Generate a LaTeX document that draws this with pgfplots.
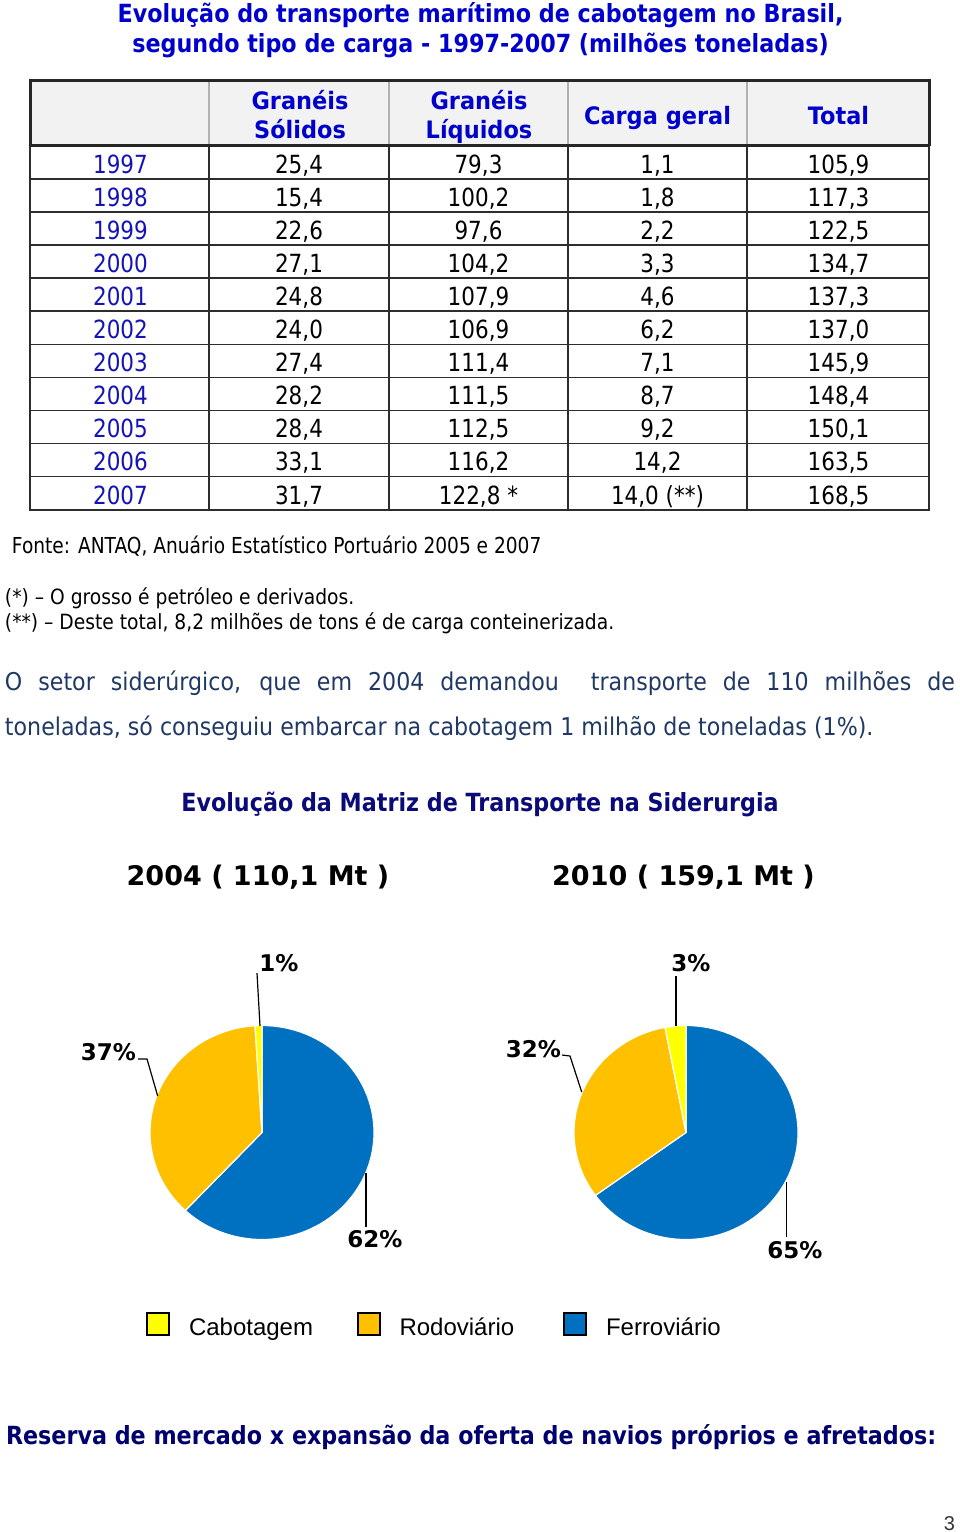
\documentclass[border=0pt]{standalone}
\usepackage{pgfplots}
\pgfplotsset{compat=1.18}
\usepackage{pgfplotstable}
\usepackage{fontspec}
\setmainfont{DejaVu Sans}
\newfontfamily\tah{DejaVu Sans}[FakeStretch=0.86]
\newfontfamily\tahf{DejaVu Sans}[FakeStretch=0.845]
\newfontfamily\tahn{DejaVu Sans}[FakeStretch=0.89]
\newfontfamily\tahp{DejaVu Sans}[FakeStretch=0.904]
\newfontfamily\tahb{DejaVu Sans}[FakeStretch=0.89]
\newfontfamily\tahh{DejaVu Sans}[FakeStretch=0.935]
\newfontfamily\verd{DejaVu Sans}
\newfontfamily\arial{Liberation Sans}
\definecolor{titblue}{RGB}{0,0,205}
\definecolor{yrblue}{RGB}{20,20,180}
\definecolor{parablue}{RGB}{31,56,100}
\definecolor{navy}{RGB}{10,10,120}
\definecolor{navyb}{RGB}{0,0,110}
\definecolor{pblue}{RGB}{0,112,192}
\definecolor{porange}{RGB}{255,192,0}
\definecolor{pyellow}{RGB}{255,255,0}
\definecolor{tline}{RGB}{45,45,45}
\definecolor{hdrbg}{RGB}{242,242,242}

\pgfplotstableread{
modo p2004 p2010
Ferroviario 62 65
Rodoviario 37 32
Cabotagem 1 3
}\matriz

\newcommand\fs[1]{\fontsize{#1}{#1}\selectfont}
\newcommand\trow[6]{%
  \pgfmathsetmacro\yb{145.7+33.1*#1+27.3}%
  \node[anchor=base,text=yrblue] at (120.5,-\yb) {\tah\fs{25}#2};
  \node[anchor=base] at (299,-\yb) {\tah\fs{25}#3};
  \node[anchor=base] at (478.5,-\yb) {\tah\fs{25}#4};
  \node[anchor=base] at (657.5,-\yb) {\tah\fs{25}#5};
  \node[anchor=base] at (838.5,-\yb) {\tah\fs{25}#6};
}

\begin{document}
\begin{tikzpicture}[x=1pt,y=1pt,inner sep=0pt,outer sep=0pt]
\path[use as bounding box] (0,0) rectangle (960,-1532);

% ---- title
\node[anchor=base,text=titblue] at (480.5,-22.7) {\tahb\bfseries\fs{25}Evolução do transporte marítimo de cabotagem no Brasil,};
\node[anchor=base,text=titblue] at (480.5,-52.3) {\tahb\bfseries\fs{25}segundo tipo de carga - 1997-2007 (milhões toneladas)};

% ---- table
\fill[hdrbg] (30,-80) rectangle (929,-145.7);
\foreach \i in {1,...,10} {
  \draw[tline,line width=1.5pt] (30,{-145.7-33.1*\i}) -- (929,{-145.7-33.1*\i});
}
\foreach \x in {209,389,568,747} {
  \draw[tline,line width=1.5pt] (\x,-145.7) -- (\x,-509.5);
  \draw[gray!60,line width=1.4pt] (\x,-80) -- (\x,-145.7);
}
\draw[tline,line width=2pt] (30,-145.7) rectangle (929,-509.5);
\draw[black!85,line width=3pt] (30,-145.7) -- (30,-80) -- (929,-80) -- (929,-145.7);
\draw[black!85,line width=3pt] (30,-145.7) -- (929,-145.7);

\node[anchor=base,text=titblue] at (300,-109.3) {\tahh\bfseries\fs{24}Granéis};
\node[anchor=base,text=titblue] at (300,-138.3) {\tahh\bfseries\fs{24}Sólidos};
\node[anchor=base,text=titblue] at (479,-109.3) {\tahh\bfseries\fs{24}Granéis};
\node[anchor=base,text=titblue] at (479,-138.3) {\tahh\bfseries\fs{24}Líquidos};
\node[anchor=base,text=titblue] at (657.5,-124) {\tahh\bfseries\fs{24}Carga geral};
\node[anchor=base,text=titblue] at (838.5,-124) {\tahh\bfseries\fs{24}Total};

\trow{0}{1997}{25,4}{79,3}{1,1}{105,9}
\trow{1}{1998}{15,4}{100,2}{1,8}{117,3}
\trow{2}{1999}{22,6}{97,6}{2,2}{122,5}
\trow{3}{2000}{27,1}{104,2}{3,3}{134,7}
\trow{4}{2001}{24,8}{107,9}{4,6}{137,3}
\trow{5}{2002}{24,0}{106,9}{6,2}{137,0}
\trow{6}{2003}{27,4}{111,4}{7,1}{145,9}
\trow{7}{2004}{28,2}{111,5}{8,7}{148,4}
\trow{8}{2005}{28,4}{112,5}{9,2}{150,1}
\trow{9}{2006}{33,1}{116,2}{14,2}{163,5}
\trow{10}{2007}{31,7}{122,8 *}{14,0 (**)}{168,5}

% ---- notes
\node[anchor=base west] at (12,-553.5) {\tahf\fs{22}Fonte: ANTAQ, Anuário Estatístico Portuário 2005 e 2007};
\node[anchor=base west] at (5,-604) {\tahn\fs{21}(*) – O grosso é petróleo e derivados.};
\node[anchor=base west] at (5,-629) {\tahn\fs{21}(**) – Deste total, 8,2 milhões de tons é de carga conteinerizada.};

% ---- paragraph
\node[anchor=base west,text=parablue] at (5,-690) {\tahp\fs{24.5}\makebox[950pt][s]{O setor siderúrgico, que em 2004 demandou\ \ transporte de 110 milhões de}};
\node[anchor=base west,text=parablue] at (5,-735) {\tahp\fs{24.5}toneladas, só conseguiu embarcar na cabotagem 1 milhão de toneladas (1\%).};

% ---- pie heading
\node[anchor=base,text=navy] at (480,-811.5) {\tahb\bfseries\fs{25}Evolução da Matriz de Transporte na Siderurgia};
\node[anchor=base] at (258,-885) {\verd\bfseries\fs{27}2004 ( 110,1 Mt )};
\node[anchor=base] at (683.5,-885) {\verd\bfseries\fs{27}2010 ( 159,1 Mt )};

% ---- pie data
\pgfplotstablegetelem{0}{p2004}\of\matriz \let\fA\pgfplotsretval
\pgfplotstablegetelem{1}{p2004}\of\matriz \let\rA\pgfplotsretval
\pgfplotstablegetelem{2}{p2004}\of\matriz \let\cA\pgfplotsretval
\pgfplotstablegetelem{0}{p2010}\of\matriz \let\fB\pgfplotsretval
\pgfplotstablegetelem{1}{p2010}\of\matriz \let\rB\pgfplotsretval
\pgfplotstablegetelem{2}{p2010}\of\matriz \let\cB\pgfplotsretval
\pgfmathsetmacro\aAone{90-3.6*\fA}
\pgfmathsetmacro\aAtwo{\aAone-3.6*\rA}
\pgfmathsetmacro\aAthree{\aAtwo-3.6*\cA}
\pgfmathsetmacro\aBone{90-3.6*\fB}
\pgfmathsetmacro\aBtwo{\aBone-3.6*\rB}
\pgfmathsetmacro\aBthree{\aBtwo-3.6*\cB}

\begin{axis}[at={(262pt,-1132.5pt)},anchor=center,scale only axis,
  width=224pt,height=214pt,xmin=-1,xmax=1,ymin=-1,ymax=1,hide axis,clip=false]
\fill[pblue,draw=white,line width=1.2pt] (axis cs:0,0) -- (axis cs:0,1)
  arc[start angle=90,end angle=\aAone,x radius=112pt,y radius=107pt] -- cycle;
\fill[porange,draw=white,line width=1.2pt] (axis cs:0,0) -- (axis cs:{cos(\aAone)},{sin(\aAone)})
  arc[start angle=\aAone,end angle=\aAtwo,x radius=112pt,y radius=107pt] -- cycle;
\fill[pyellow,draw=white,line width=1.2pt] (axis cs:0,0) -- (axis cs:{cos(\aAtwo)},{sin(\aAtwo)})
  arc[start angle=\aAtwo,end angle=\aAthree,x radius=112pt,y radius=107pt] -- cycle;
\end{axis}

\begin{axis}[at={(686pt,-1132.5pt)},anchor=center,scale only axis,
  width=224pt,height=214pt,xmin=-1,xmax=1,ymin=-1,ymax=1,hide axis,clip=false]
\fill[pblue,draw=white,line width=1.2pt] (axis cs:0,0) -- (axis cs:0,1)
  arc[start angle=90,end angle=\aBone,x radius=112pt,y radius=107pt] -- cycle;
\fill[porange,draw=white,line width=1.2pt] (axis cs:0,0) -- (axis cs:{cos(\aBone)},{sin(\aBone)})
  arc[start angle=\aBone,end angle=\aBtwo,x radius=112pt,y radius=107pt] -- cycle;
\fill[pyellow,draw=white,line width=1.2pt] (axis cs:0,0) -- (axis cs:{cos(\aBtwo)},{sin(\aBtwo)})
  arc[start angle=\aBtwo,end angle=\aBthree,x radius=112pt,y radius=107pt] -- cycle;
\end{axis}

% ---- pie labels and leaders
\draw[black,line width=1.2pt] (257,-973) -- (260,-1026);
\draw[black,line width=1.2pt] (138,-1059) -- (147,-1059) -- (157.7,-1096);
\draw[black,line width=1.2pt] (366,-1173) -- (366,-1227);
\draw[black,line width=1.2pt] (676,-976) -- (676,-1026);
\draw[black,line width=1.2pt] (562,-1055) -- (570,-1056) -- (581.7,-1092);
\draw[black,line width=1.2pt] (786.7,-1182) -- (786.7,-1237);
\node[anchor=base] at (279,-971) {\verd\bfseries\fs{23}1\%};
\node[anchor=base] at (108.5,-1060) {\verd\bfseries\fs{23}37\%};
\node[anchor=base] at (375,-1247) {\verd\bfseries\fs{23}62\%};
\node[anchor=base] at (691,-971) {\verd\bfseries\fs{23}3\%};
\node[anchor=base] at (533.5,-1057) {\verd\bfseries\fs{23}32\%};
\node[anchor=base] at (795,-1258) {\verd\bfseries\fs{23}65\%};

% ---- legend
\filldraw[fill=pyellow,draw=black,line width=2pt] (147,-1313) rectangle (169,-1335);
\filldraw[fill=porange,draw=black,line width=2pt] (358,-1313) rectangle (380,-1335);
\filldraw[fill=pblue,draw=black,line width=2pt] (564,-1313) rectangle (586,-1335);
\node[anchor=base west] at (189,-1335) {\arial\fs{24}Cabotagem};
\node[anchor=base west] at (399.5,-1335) {\arial\fs{24}Rodoviário};
\node[anchor=base west] at (606,-1335) {\arial\fs{24}Ferroviário};

% ---- bottom
\node[anchor=base west,text=navyb] at (6,-1444) {\tahb\bfseries\fs{25}Reserva de mercado x expansão da oferta de navios próprios e afretados:};
\node[anchor=base east,text=black!80] at (955,-1530) {\arial\fs{20}3};
\end{tikzpicture}
\end{document}
